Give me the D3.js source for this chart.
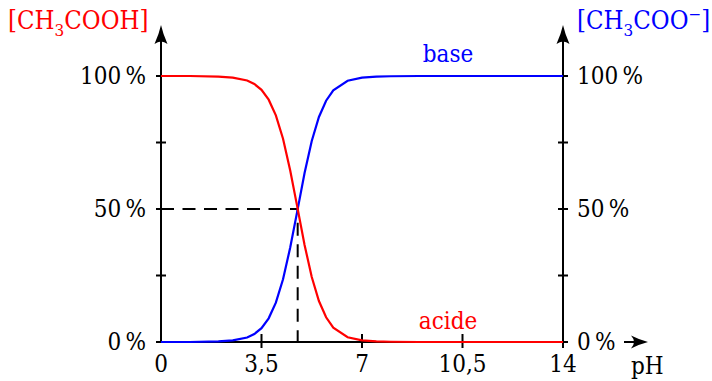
<!DOCTYPE html>
<html lang="fr">
<head>
  <meta charset="UTF-8">
  <title>Acide acétique / ion acétate</title>
  <style>
    body { margin: 0; background: #fff; }
    text { font-family: "DejaVu Serif Condensed", "DejaVu Serif", serif; font-stretch: condensed; font-size: 24px; }
  </style>
</head>
<body>
<div id="chart"></div>
<script src="https://d3js.org/d3.v7.min.js"></script>
<script>
  // Données (pourcentages)
  var phValues = [0, 1, 2, 2.5, 3, 3.25, 3.5, 3.75, 4, 4.25, 4.5, 4.75, 5, 5.25, 5.5, 5.75, 6, 6.5, 7, 7.5, 8, 9, 14];
  var acidPct = [100, 100, 99.8, 99.4, 98.3, 97, 94.8, 91.1, 85.2, 76.4, 64.5, 50.6, 36.5, 24.4, 15.4, 9.3, 5.4, 1.8, 0.6, 0.2, 0.1, 0, 0];
  var basePct = [0, 0, 0.2, 0.6, 1.7, 3, 5.2, 8.9, 14.8, 23.6, 35.5, 49.4, 63.5, 75.6, 84.6, 90.7, 94.6, 98.2, 99.4, 99.8, 99.9, 100, 100];
  var pKa = 4.76;

  var xTicks = [0, 3.5, 7, 10.5, 14];
  var xTickLabels = ['0', '3,5', '7', '10,5', '14'];
  var yTicks = [0, 25, 50, 75, 100];
  var yLabelTicks = [0, 50, 100];
  var yLabels = ['0\u2009%', '50\u2009%', '100\u2009%'];

  var svg = d3.select('#chart').append('svg')
    .attr('width', 712)
    .attr('height', 381);

  var x = d3.scaleLinear().domain([0, 14]).range([161, 563]);
  var y = d3.scaleLinear().domain([0, 100]).range([342, 76]);

  // pointillés pKa
  svg.append('path')
    .attr('d', 'M' + x(0) + ',' + y(50) + 'H' + x(pKa) + 'V' + y(0))
    .attr('fill', 'none')
    .attr('stroke', '#000')
    .attr('stroke-width', 2)
    .attr('stroke-dasharray', '13,8.5');

  // axes
  var axes = svg.append('g').attr('stroke', '#000').attr('stroke-width', 2);
  axes.append('line').attr('x1', x(0)).attr('x2', x(14)).attr('y1', y(0)).attr('y2', y(0));
  axes.append('line').attr('x1', x(0)).attr('x2', x(0)).attr('y1', y(0)).attr('y2', 30);
  axes.append('line').attr('x1', x(14)).attr('x2', x(14)).attr('y1', y(0)).attr('y2', 30);
  axes.append('line').attr('x1', 624).attr('x2', 644).attr('y1', y(0)).attr('y2', y(0));

  // graduations
  [x(0), x(14)].forEach(function(ax) {
    axes.selectAll(null)
      .data(yTicks)
      .enter()
      .append('line')
      .attr('x1', ax - 5).attr('x2', ax + 5)
      .attr('y1', function(d) { return y(d); })
      .attr('y2', function(d) { return y(d); });
  });
  axes.selectAll(null)
    .data(xTicks.slice(1))
    .enter()
    .append('line')
    .attr('x1', function(d) { return x(d); })
    .attr('x2', function(d) { return x(d); })
    .attr('y1', y(0) - 8).attr('y2', y(0) + 6);

  // flèches
  var head = 'M0,0 Q2,9 6.5,19 Q0,14 -6.5,19 Q-2,9 0,0 Z';
  svg.append('path').attr('d', head).attr('transform', 'translate(' + x(0) + ',25)');
  svg.append('path').attr('d', head).attr('transform', 'translate(' + x(14) + ',25)');
  svg.append('path').attr('d', 'M0,0 Q-8,-2 -17,-6.5 Q-11,0 -17,6.5 Q-8,2 0,0 Z')
    .attr('transform', 'translate(648,' + y(0) + ')');

  // courbes
  var line = d3.line()
    .x(function(d) { return x(d[0]); })
    .y(function(d) { return y(d[1]); });

  svg.append('path')
    .datum(d3.zip(phValues, basePct))
    .attr('fill', 'none')
    .attr('stroke', '#0000ff')
    .attr('stroke-width', 2.2)
    .attr('d', line);

  svg.append('path')
    .datum(d3.zip(phValues, acidPct))
    .attr('fill', 'none')
    .attr('stroke', '#ff0000')
    .attr('stroke-width', 2.2)
    .attr('d', line);

  // étiquettes des axes
  svg.selectAll('.ylab-left')
    .data(yLabelTicks)
    .enter()
    .append('text')
    .attr('class', 'ylab-left')
    .attr('x', 146)
    .attr('y', function(d) { return y(d) + 8; })
    .attr('text-anchor', 'end')
    .text(function(d, i) { return yLabels[i]; });

  svg.selectAll('.ylab-right')
    .data(yLabelTicks)
    .enter()
    .append('text')
    .attr('class', 'ylab-right')
    .attr('x', 577)
    .attr('y', function(d) { return y(d) + 8; })
    .text(function(d, i) { return yLabels[i]; });

  svg.selectAll('.xlab')
    .data(xTicks)
    .enter()
    .append('text')
    .attr('class', 'xlab')
    .attr('x', function(d) { return x(d); })
    .attr('y', 372)
    .attr('text-anchor', 'middle')
    .text(function(d, i) { return xTickLabels[i]; });

  svg.append('text').attr('x', 631).attr('y', 374).text('pH');

  // titres
  var t1 = svg.append('text').attr('x', 8).attr('y', 29).attr('fill', '#ff0000').style('font-size', '25.5px');
  t1.append('tspan').text('[CH');
  t1.append('tspan').attr('dy', 7).style('font-size', '17px').text('3');
  t1.append('tspan').attr('dy', -7).text('COOH]');

  var t2 = svg.append('text').attr('x', 577).attr('y', 29).attr('fill', '#0000ff').style('font-size', '25.5px');
  t2.append('tspan').text('[CH');
  t2.append('tspan').attr('dy', 7).style('font-size', '17px').text('3');
  t2.append('tspan').attr('dy', -7).text('COO');
  t2.append('tspan').attr('dy', -9).style('font-size', '17px').text('\u2212');
  t2.append('tspan').attr('dy', 9).text(']');

  svg.append('text').attr('x', 448).attr('y', 62).attr('text-anchor', 'middle')
    .attr('fill', '#0000ff').text('base');
  svg.append('text').attr('x', 448).attr('y', 329).attr('text-anchor', 'middle')
    .attr('fill', '#ff0000').text('acide');
</script>
</body>
</html>
